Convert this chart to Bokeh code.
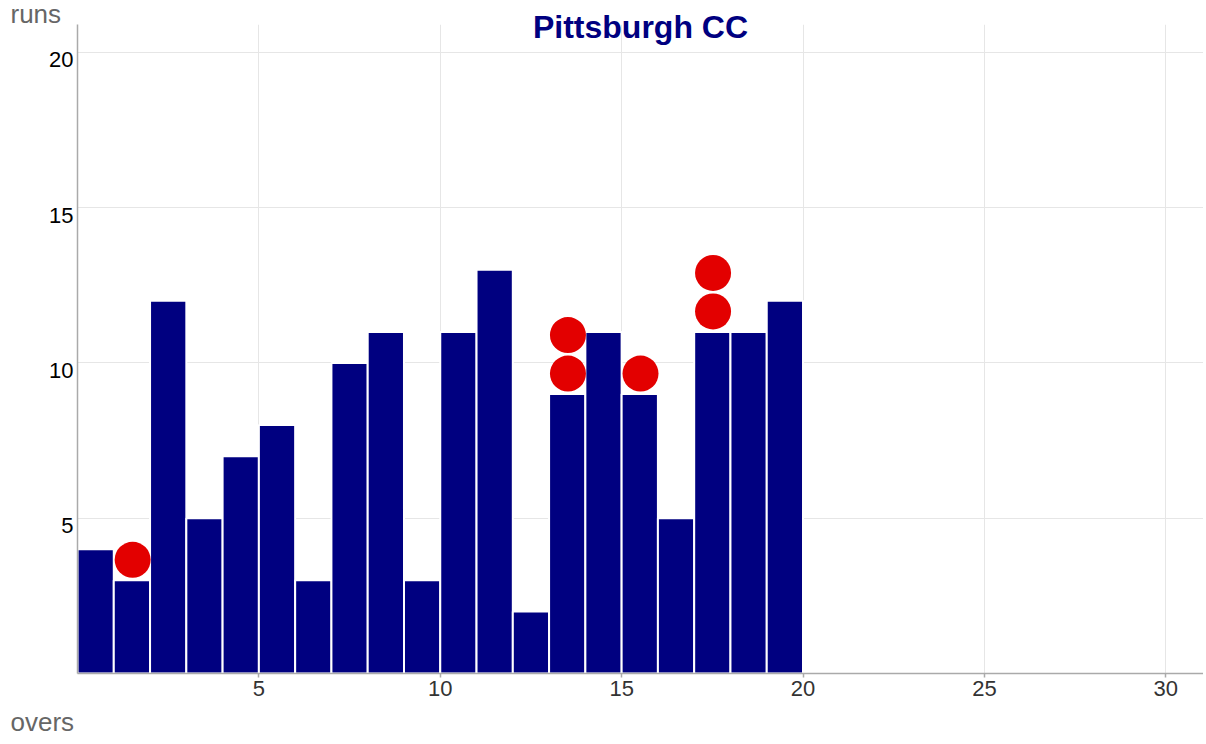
from bokeh.plotting import figure
from bokeh.models import FixedTicker, Title, ColumnDataSource, NumeralTickFormatter
from bokeh.embed import file_html
from bokeh.resources import INLINE

overs = list(range(1, 21))
runs = [4, 3, 12, 5, 7, 8, 3, 10, 11, 3, 11, 13, 2, 9, 11, 9, 5, 11, 11, 12]
wicket_overs = [2, 14, 16, 18]
wicket_counts = [1, 2, 1, 2]
x_ticks = [5, 10, 15, 20, 25, 30]
y_ticks = [5, 10, 15, 20]
title_text = "Pittsburgh CC"

FONT = "Liberation Sans"

p = figure(width=1203, height=744, output_backend="svg", toolbar_location=None,
           x_range=(0, 31.04), y_range=(0, 20.9),
           min_border_left=77, min_border_right=0, min_border_top=0, min_border_bottom=71)
p.outline_line_color = None
p.title.visible = False

src = ColumnDataSource(dict(left=[o - 1 for o in overs], right=overs, top=runs))
p.quad(left="left", right="right", bottom=0, top="top", source=src,
       fill_color="#000080", line_color="white", line_width=2)

wx, wy = [], []
for o, c in zip(wicket_overs, wicket_counts):
    r = runs[overs.index(o)]
    for k in range(c):
        wx.append(o - 0.48)
        wy.append(r + 0.66 + 1.24 * k)
p.scatter(wx, wy, size=36, fill_color="#e30000", line_color=None)

# y labels sit just below their gridlines in the reference
p.xaxis.ticker = FixedTicker(ticks=x_ticks)
p.yaxis.ticker = FixedTicker(ticks=[t - 0.24 for t in y_ticks])
p.yaxis.formatter = NumeralTickFormatter(format="0")
p.xgrid.ticker = FixedTicker(ticks=x_ticks)
p.ygrid.ticker = FixedTicker(ticks=y_ticks)
p.xgrid.grid_line_color = "#e6e6e6"
p.ygrid.grid_line_color = "#e6e6e6"

for ax in (p.xaxis, p.yaxis):
    ax.axis_line_color = "#aaaaaa"
    ax.axis_line_width = 1.5
    ax.major_tick_line_color = "#aaaaaa"
    ax.major_tick_line_width = 1.5
    ax.minor_tick_line_color = None
    ax.major_label_text_font = FONT
    ax.major_label_text_font_size = "22px"

p.xaxis.major_tick_out = 4
p.xaxis.major_tick_in = 0
p.xaxis.major_label_text_color = "#333333"
p.xaxis.major_label_standoff = 3
p.yaxis.major_tick_out = 0
p.yaxis.major_tick_in = 0
p.yaxis.major_label_text_color = "#000000"
p.yaxis.major_label_standoff = 4

# main title (overlapping the frame top), then the "runs" label above it
p.add_layout(Title(text=title_text, align="center", text_font=FONT, text_font_size="32px",
                   text_font_style="bold", text_color="#000080", standoff=-40), "above")
p.add_layout(Title(text="runs", align="left", offset=-67, text_font=FONT, text_font_size="26px",
                   text_font_style="normal", text_color="#666666", standoff=-8), "above")
p.add_layout(Title(text="overs", align="left", offset=-67, text_font=FONT, text_font_size="26px",
                   text_font_style="normal", text_color="#666666", standoff=13), "below")

open("out.html", "w").write(file_html(p, INLINE))
